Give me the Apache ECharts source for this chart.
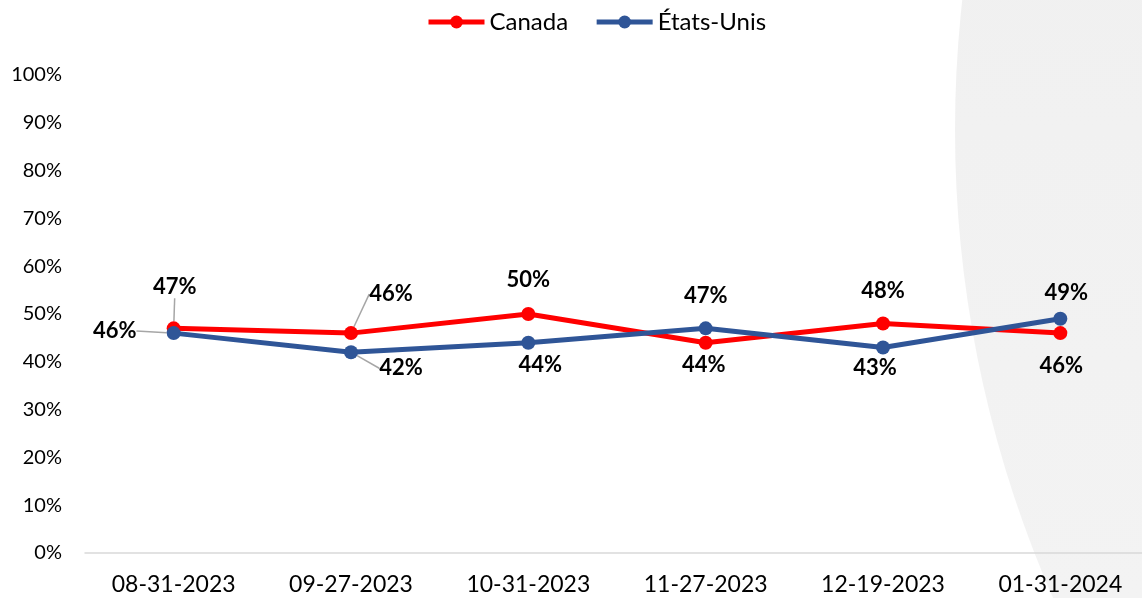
<!DOCTYPE html>
<html>
<head>
    <meta charset="UTF-8">
    <title>Canada vs États-Unis</title>
    <script src="https://cdn.jsdelivr.net/npm/echarts@6/dist/echarts.min.js"></script>
    <style>
        html, body { margin: 0; padding: 0; background: #fff; }
    </style>
</head>
<body>
    <div id="main" style="width: 1142px;height:598px;"></div>
    <script type="text/javascript">
        var dates = ['08-31-2023', '09-27-2023', '10-31-2023', '11-27-2023', '12-19-2023', '01-31-2024'];
        var canada = [47, 46, 50, 44, 48, 46];
        var etatsUnis = [46, 42, 44, 47, 43, 49];
        var yTicks = [0, 10, 20, 30, 40, 50, 60, 70, 80, 90, 100];

        // label offsets (centre of label relative to the point)
        var canadaOffsets = [[1, -41], [40, -39], [0, -34], [-2, 22], [0, -33], [1, 33]];
        var usOffsets = [[-59, -2], [50, 16], [12, 22], [0, -32], [-8, 20], [6, -26]];
        var canadaLeader = [true, true, false, false, false, false];
        var usLeader = [true, true, false, false, false, false];

        var font = 'Lato, "Open Sans", sans-serif';
        var myChart = echarts.init(document.getElementById('main'));

        function makeData(values, leader) {
            return values.map(function (v, i) {
                return { value: v, labelLine: { show: leader[i] } };
            });
        }

        function layoutFor(offsets) {
            return function (params) {
                var o = offsets[params.dataIndex];
                return {
                    x: params.rect.x + params.rect.width / 2 + o[0],
                    y: params.rect.y + params.rect.height / 2 + o[1],
                    align: 'center',
                    verticalAlign: 'middle'
                };
            };
        }

        var option = {
            backgroundColor: '#ffffff',
            animation: false,
            graphic: [{
                type: 'circle',
                z: -10,
                silent: true,
                shape: { cx: 2121, cy: 130, r: 1166 },
                style: {
                    fill: new echarts.graphic.LinearGradient(0, 0, 0, 1, [
                        { offset: 0, color: '#ececec' },
                        { offset: 1, color: '#f6f6f6' }
                    ])
                }
            }],
            legend: {
                top: 5,
                left: 421,
                itemWidth: 56,
                itemHeight: 16,
                itemGap: 26,
                lineStyle: { width: 5 },
                textStyle: { fontFamily: font, fontSize: 24, color: '#000' },
                data: ['Canada', 'États-Unis']
            },
            grid: { left: 85, top: 75, width: 1064, bottom: 45, outerBoundsMode: 'none' },
            xAxis: {
                type: 'category',
                data: dates,
                axisLine: { lineStyle: { color: '#d9d9d9', width: 1.5 } },
                axisTick: { show: false },
                axisLabel: { fontFamily: font, fontSize: 23, color: '#000', margin: 20 }
            },
            yAxis: {
                type: 'value',
                min: yTicks[0],
                max: yTicks[yTicks.length - 1],
                interval: 10,
                splitLine: { show: false },
                axisLine: { show: false },
                axisTick: { show: false },
                axisLabel: {
                    fontFamily: font, fontSize: 20, color: '#000', margin: 23,
                    formatter: '{value}%'
                }
            },
            series: [{
                name: 'Canada',
                type: 'line',
                data: makeData(canada, canadaLeader),
                symbol: 'circle',
                symbolSize: 14,
                color: '#ff0000',
                lineStyle: { width: 5, color: '#ff0000' },
                label: {
                    show: true,
                    formatter: '{c}%',
                    fontFamily: font, fontSize: 22, fontWeight: 'bold', color: '#000'
                },
                labelLine: { show: false, lineStyle: { color: '#a6a6a6', width: 1.5 } },
                labelLayout: layoutFor(canadaOffsets)
            }, {
                name: 'États-Unis',
                type: 'line',
                data: makeData(etatsUnis, usLeader),
                symbol: 'circle',
                symbolSize: 14,
                color: '#2f5597',
                lineStyle: { width: 5, color: '#2f5597' },
                label: {
                    show: true,
                    formatter: '{c}%',
                    fontFamily: font, fontSize: 22, fontWeight: 'bold', color: '#000'
                },
                labelLine: { show: false, lineStyle: { color: '#a6a6a6', width: 1.5 } },
                labelLayout: layoutFor(usOffsets)
            }]
        };

        myChart.setOption(option);
    </script>
</body>
</html>
